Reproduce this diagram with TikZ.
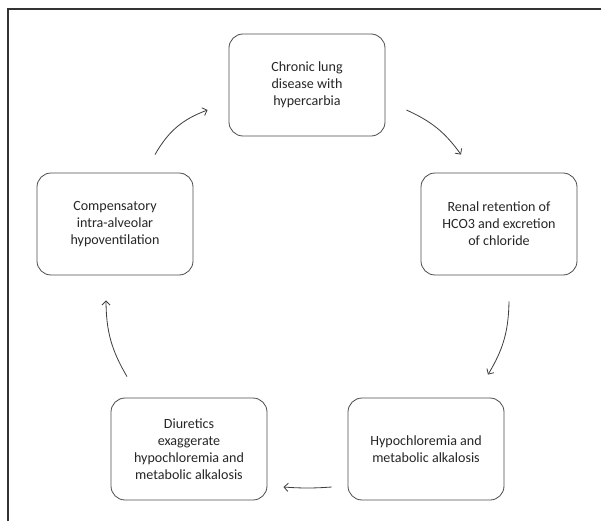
\documentclass[tikz,border=0pt]{standalone}
\usepackage{fontspec}
\setmainfont{Carlito}
\usetikzlibrary{arrows.meta,calc}
\tikzset{stage/.style={draw=black!70,line width=0.7pt,rounded corners=12pt,minimum width=4.68cm,minimum height=3.06cm,align=center,text=black!85,font=\fontsize{12}{14.6}\selectfont}}
\tikzset{link/.style={draw=black!75,line width=0.7pt,-{Straight Barb[length=3.5pt,width=7pt]},bend left=15}}

\begin{document}
\begin{tikzpicture}[x=0.03cm,y=-0.03cm]
    \useasboundingbox (0,0) rectangle (601,521);
    \draw[black!80,line width=1.1pt] (8,521) -- (8,9) -- (601,9);
    \node[stage] (top) at (307,85) {Chronic lung\\disease with\\hypercarbia};
    \node[stage] (rgt) at (499,224) {Renal retention of\\HCO3 and excretion\\of chloride};
    \node[stage] (br) at (426,449) {Hypochloremia and\\metabolic alkalosis};
    \node[stage] (bl) at (189,449) {Diuretics\\exaggerate\\hypochloremia and\\metabolic alkalosis};
    \node[stage] (lft) at (115,224) {Compensatory\\intra-alveolar\\hypoventilation};
    \draw[link] ($(top.east)+(21,25)$) to ($(rgt.north)+(-38,-18)$);
    \draw[link] ($(rgt.south)+(10,26)$) to ($(br.north)+(62,-23)$);
    \draw[link,bend left=4] ($(br.west)+(-16,38)$) to ($(bl.east)+(16,38)$);
    \draw[link] ($(bl.north)+(-62,-21)$) to ($(lft.south)+(-9,25)$);
    \draw[link,bend left=20] ($(lft.north)+(40,-18)$) to ($(top.west)+(-21,25)$);
\end{tikzpicture}
\end{document}
